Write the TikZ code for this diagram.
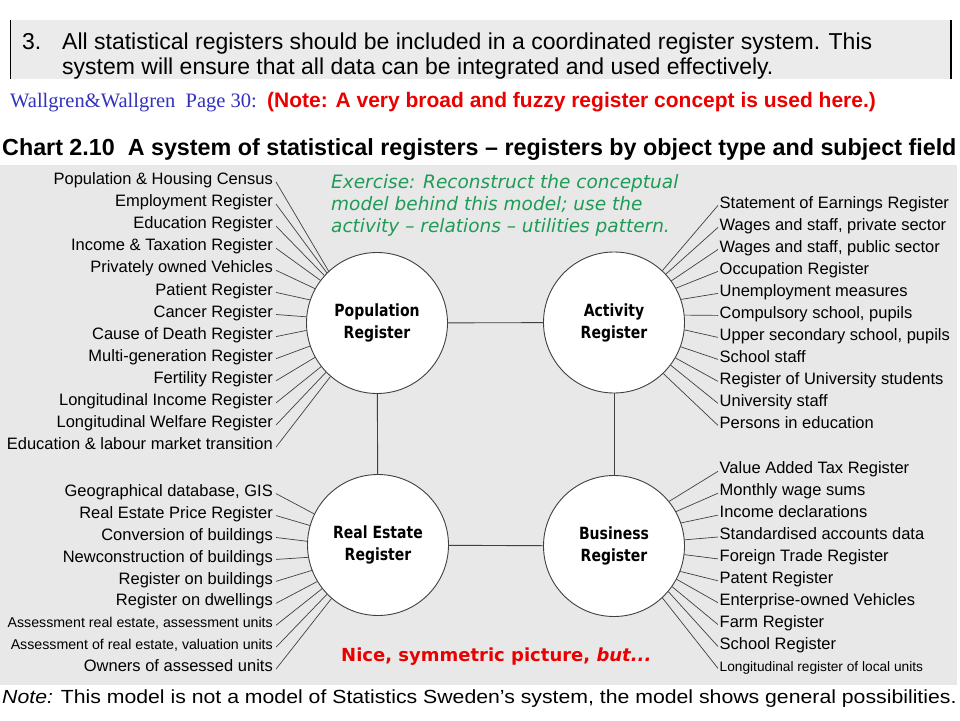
\documentclass[tikz,border=0pt]{standalone}
\usepackage{fontspec}
\setmainfont{Liberation Sans}
\newfontfamily\verdf{DejaVu Sans}
\newfontfamily\timesf{Liberation Serif}
\newcommand\vsc[2]{\scalebox{1}[#1]{#2}}
\newcommand\fs[1]{\fontsize{#1}{#1}\selectfont}
\definecolor{panel}{RGB}{232,232,232}
\definecolor{hdr}{RGB}{235,235,235}
\definecolor{exgreen}{RGB}{30,155,85}
\definecolor{nred}{RGB}{235,0,0}
\definecolor{wblue}{RGB}{50,50,190}
\definecolor{cgray}{RGB}{64,64,64}
\begin{document}
\begin{tikzpicture}[x=1pt,y=-1pt,
  reg/.style={circle,draw=cgray,line width=0.9pt,fill=white,minimum size=141pt,inner sep=0pt,align=center,font=\verdf\bfseries\fontsize{14}{22}\selectfont},
  lab/.style={font=\fs{16.5}},
  labl/.style={lab,anchor=mid east,inner sep=3pt},
  labr/.style={lab,anchor=mid west,inner sep=1.5pt},
  spoke/.style={draw=cgray,line width=0.7pt},
  link/.style={draw=cgray,line width=0.9pt},
  txt/.style={anchor=base west,inner sep=0pt}]
\useasboundingbox (0,0) rectangle (960,720);
\fill[white] (0,0) rectangle (960,720);
% header box
\fill[hdr] (10,20) rectangle (951,79);
\draw[line width=1.4pt] (10.7,20) -- (10.7,79);
\draw[line width=1.4pt] (951,20) -- (951,79);
\node[txt,font=\fs{23}] (num) at (22,49) {3.};
\node[txt,font=\fs{23}] (h1) at (62,49) {All statistical registers should be included in a coordinated register system. This};
\node[txt,font=\fs{23}] (h2) at (62,74) {system will ensure that all data can be integrated and used effectively.};
\node[txt,font=\timesf\fs{20.5},text=wblue] (src) at (10,107) {Wallgren\&Wallgren\ \ Page 30:};
\node[txt,font=\bfseries\fs{21},text=nred] (rnote) at (267,107) {(Note: A very broad and fuzzy register concept is used here.)};
\node[txt,font=\bfseries\fs{23.3}] (title) at (2,155.3) {Chart 2.10\ \ A system of statistical registers – registers by object type and subject field};
% panel
\fill[panel] (0,165) rectangle (957,685);
% circles
\node[reg] (pop) at (377,323) {\vsc{1.2}{Population}\\\vsc{1.2}{Register}};
\node[reg] (act) at (614,322.5) {\vsc{1.2}{Activity}\\\vsc{1.2}{Register}};
\node[reg] (re) at (378,545) {\vsc{1.2}{Real Estate}\\\vsc{1.2}{Register}};
\node[reg] (bus) at (614,546) {\vsc{1.2}{Business}\\\vsc{1.2}{Register}};
\draw[link] (pop) -- (act);
\draw[link] (pop) -- (re);
\draw[link] (re) -- (bus);
\draw[link] (act) -- (bus);
% population labels
\foreach \t/\a [count=\i from 0] in {
  {Population \& Housing Census}/133,
  {Employment Register}/135,
  {Education Register}/138,
  {Income \& Taxation Register}/143,
  {Privately owned Vehicles}/151,
  {Patient Register}/161,
  {Cancer Register}/175,
  {Cause of Death Register}/186,
  {Multi-generation Register}/199,
  {Fertility Register}/209,
  {Longitudinal Income Register}/218,
  {Longitudinal Welfare Register}/224,
  {Education \& labour market transition}/229}{
  \node[labl] (p\i) at (276,181.9+\i*22.1) {\t};
  \draw[spoke] (p\i.mid east) -- (pop.\a);
}
% real estate labels
\foreach \t/\a [count=\i from 0] in {
  {Geographical database, GIS}/154,
  {Real Estate Price Register}/164,
  {Conversion of buildings}/177,
  {Newconstruction of buildings}/190,
  {Register on buildings}/201,
  {Register on dwellings}/211,
  {\fs{14.2}Assessment real estate, assessment units}/218,
  {\fs{14.2}Assessment of real estate, valuation units}/224,
  {Owners of assessed units}/229}{
  \node[labl] (r\i) at (276,493.6+\i*21.94) {\t};
  \draw[spoke] (r\i.mid east) -- (re.\a);
}
% activity labels
\foreach \t/\a [count=\i from 0] in {
  {Statement of Earnings Register}/47,
  {Wages and staff, private sector}/43,
  {Wages and staff, public sector}/36,
  {Occupation Register}/29,
  {Unemployment measures}/19,
  {Compulsory school, pupils}/6,
  {Upper secondary school, pupils}/-6,
  {School staff}/-20,
  {Register of University students}/-30,
  {University staff}/-37,
  {Persons in education}/-46}{
  \node[labr] (a\i) at (718,205.4+\i*22.0) {\t};
  \draw[spoke] (a\i.mid west) -- (act.\a);
}
% business labels
\foreach \t/\a [count=\i from 0] in {
  {Value Added Tax Register}/39,
  {Monthly wage sums}/29.5,
  {Income declarations}/19,
  {Standardised accounts data}/5,
  {Foreign Trade Register}/-7,
  {Patent Register}/-21,
  {Enterprise-owned Vehicles}/-28,
  {Farm Register}/-35,
  {School Register}/-40,
  {\fs{13.7}Longitudinal register of local units}/-47}{
  \node[labr] (b\i) at (718,471.3+\i*21.9) {\t};
  \draw[spoke] (b\i.mid west) -- (bus.\a);
}
% exercise text
\node[anchor=west,inner sep=0pt,align=left,text=exgreen,font=\verdf\itshape\fontsize{18.5}{22}\selectfont] (ex) at (331,205)
  {Exercise: Reconstruct the conceptual\\model behind this model; use the\\activity – relations – utilities pattern.};
\node[txt,text=nred,font=\verdf\bfseries\fs{18}] (nice) at (341,661) {Nice, symmetric picture, \textit{but...}};
\node[txt,font=\fs{19}] (foot) at (2,703.5) {\scalebox{1.118}[1]{\textit{Note:} This model is not a model of Statistics Sweden’s system, the model shows general possibilities.}};
\end{tikzpicture}
\end{document}
